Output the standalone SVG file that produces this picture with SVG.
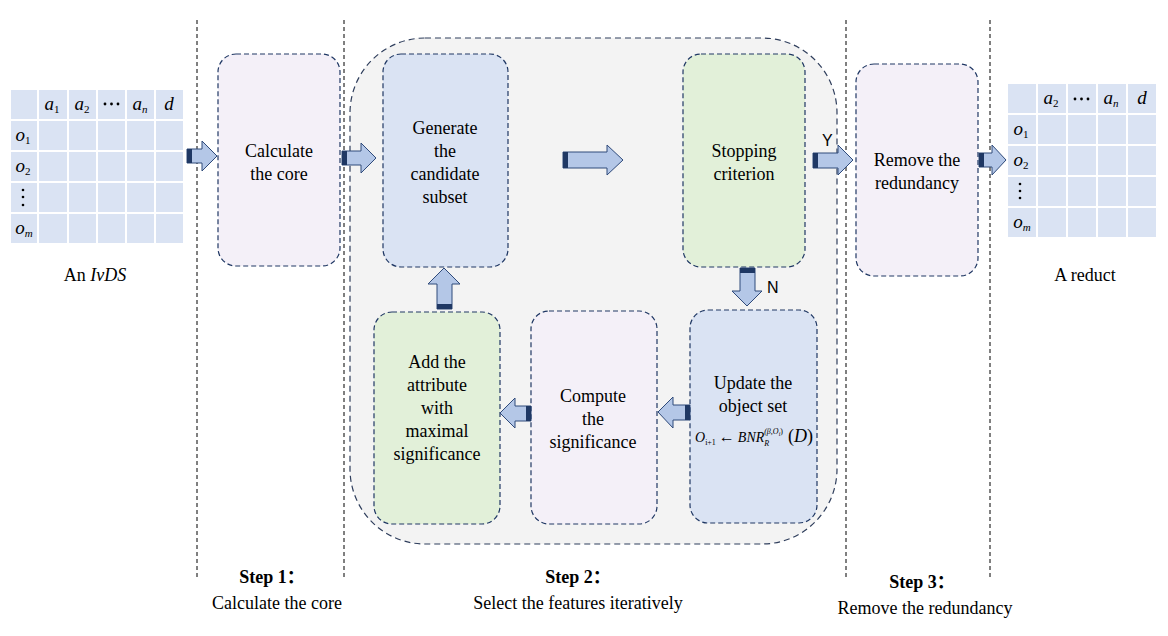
<svg xmlns="http://www.w3.org/2000/svg" width="1168" height="636" viewBox="0 0 1168 636">
<defs>
<style>
.t{font-family:"Liberation Serif","Times New Roman",serif;font-size:18px;fill:#000;text-anchor:middle}
.it{font-style:italic}
.sub{font-size:11px}
.up{font-style:normal}
.step{font-family:"Liberation Serif","Noto Sans CJK SC",serif;font-size:18px;font-weight:bold;text-anchor:middle}
.sans{font-family:"Liberation Sans",Arial,sans-serif;font-size:16px;fill:#000}
.div{stroke:#000;stroke-width:1;stroke-dasharray:4 3;fill:none}
.node{stroke:#203864;stroke-width:1.2;stroke-dasharray:5 3}
.blue{fill:#dae3f3}
.lav{fill:#f4f0f8}
.green{fill:#e2f0d9}
.arr{fill:#b4c7e7;stroke:#2f4a7a;stroke-width:1}
.bar{fill:#1f3864}
.cell{fill:#dae3f3;stroke:#fff;stroke-width:2}
.tv{font-size:19px}
</style>
</defs>

<!-- dividers -->
<g id="dividers">
<line class="div" x1="197" y1="20" x2="197" y2="578"/>
<line class="div" x1="344" y1="20" x2="344" y2="578"/>
<line class="div" x1="846" y1="20" x2="846" y2="578"/>
<line class="div" x1="990" y1="20" x2="990" y2="578"/>
</g>

<!-- big container -->
<g id="container">
<rect x="350" y="38" width="487" height="506" rx="75" ry="75" fill="#f3f3f3" stroke="#2f3e5c" stroke-width="1.2" stroke-dasharray="6 4"/>
</g>

<!-- left table -->
<g id="table-ivds">
<rect class="cell" x="10" y="89" width="28" height="31"/>
<rect class="cell" x="38" y="89" width="30" height="31"/>
<rect class="cell" x="68" y="89" width="29" height="31"/>
<rect class="cell" x="97" y="89" width="29" height="31"/>
<rect class="cell" x="126" y="89" width="29" height="31"/>
<rect class="cell" x="155" y="89" width="29" height="31"/>
<rect class="cell" x="10" y="120" width="28" height="31"/>
<rect class="cell" x="38" y="120" width="30" height="31"/>
<rect class="cell" x="68" y="120" width="29" height="31"/>
<rect class="cell" x="97" y="120" width="29" height="31"/>
<rect class="cell" x="126" y="120" width="29" height="31"/>
<rect class="cell" x="155" y="120" width="29" height="31"/>
<rect class="cell" x="10" y="151" width="28" height="31"/>
<rect class="cell" x="38" y="151" width="30" height="31"/>
<rect class="cell" x="68" y="151" width="29" height="31"/>
<rect class="cell" x="97" y="151" width="29" height="31"/>
<rect class="cell" x="126" y="151" width="29" height="31"/>
<rect class="cell" x="155" y="151" width="29" height="31"/>
<rect class="cell" x="10" y="182" width="28" height="31"/>
<rect class="cell" x="38" y="182" width="30" height="31"/>
<rect class="cell" x="68" y="182" width="29" height="31"/>
<rect class="cell" x="97" y="182" width="29" height="31"/>
<rect class="cell" x="126" y="182" width="29" height="31"/>
<rect class="cell" x="155" y="182" width="29" height="31"/>
<rect class="cell" x="10" y="213" width="28" height="31"/>
<rect class="cell" x="38" y="213" width="30" height="31"/>
<rect class="cell" x="68" y="213" width="29" height="31"/>
<rect class="cell" x="97" y="213" width="29" height="31"/>
<rect class="cell" x="126" y="213" width="29" height="31"/>
<rect class="cell" x="155" y="213" width="29" height="31"/>
<text class="t it tv" x="52" y="110">a<tspan class="sub up" dy="3">1</tspan></text>
<text class="t it tv" x="82" y="110">a<tspan class="sub up" dy="3">2</tspan></text>
<g fill="#000"><circle cx="105" cy="104" r="1.4"/><circle cx="111.5" cy="104" r="1.4"/><circle cx="118" cy="104" r="1.4"/></g>
<text class="t it tv" x="140" y="110">a<tspan class="sub" dy="3">n</tspan></text>
<text class="t it tv" x="169" y="110">d</text>
<text class="t it tv" x="23" y="141">o<tspan class="sub up" dy="3">1</tspan></text>
<text class="t it tv" x="23" y="172">o<tspan class="sub up" dy="3">2</tspan></text>
<g fill="#000"><circle cx="23" cy="190" r="1.3"/><circle cx="23" cy="197" r="1.3"/><circle cx="23" cy="205" r="1.3"/></g>
<text class="t it tv" x="24" y="234">o<tspan class="sub" dy="3">m</tspan></text>
<text class="t" x="95" y="281">An <tspan class="it">IvDS</tspan></text>
</g>

<!-- right table -->
<g id="table-reduct">
<rect class="cell" x="1007" y="83" width="30" height="31"/>
<rect class="cell" x="1037" y="83" width="30" height="31"/>
<rect class="cell" x="1067" y="83" width="30" height="31"/>
<rect class="cell" x="1097" y="83" width="30" height="31"/>
<rect class="cell" x="1127" y="83" width="30" height="31"/>
<rect class="cell" x="1007" y="114" width="30" height="31"/>
<rect class="cell" x="1037" y="114" width="30" height="31"/>
<rect class="cell" x="1067" y="114" width="30" height="31"/>
<rect class="cell" x="1097" y="114" width="30" height="31"/>
<rect class="cell" x="1127" y="114" width="30" height="31"/>
<rect class="cell" x="1007" y="145" width="30" height="31"/>
<rect class="cell" x="1037" y="145" width="30" height="31"/>
<rect class="cell" x="1067" y="145" width="30" height="31"/>
<rect class="cell" x="1097" y="145" width="30" height="31"/>
<rect class="cell" x="1127" y="145" width="30" height="31"/>
<rect class="cell" x="1007" y="176" width="30" height="31"/>
<rect class="cell" x="1037" y="176" width="30" height="31"/>
<rect class="cell" x="1067" y="176" width="30" height="31"/>
<rect class="cell" x="1097" y="176" width="30" height="31"/>
<rect class="cell" x="1127" y="176" width="30" height="31"/>
<rect class="cell" x="1007" y="207" width="30" height="31"/>
<rect class="cell" x="1037" y="207" width="30" height="31"/>
<rect class="cell" x="1067" y="207" width="30" height="31"/>
<rect class="cell" x="1097" y="207" width="30" height="31"/>
<rect class="cell" x="1127" y="207" width="30" height="31"/>
<text class="t it tv" x="1051" y="104">a<tspan class="sub up" dy="3">2</tspan></text>
<g fill="#000"><circle cx="1075" cy="99" r="1.4"/><circle cx="1081.5" cy="99" r="1.4"/><circle cx="1088" cy="99" r="1.4"/></g>
<text class="t it tv" x="1111" y="104">a<tspan class="sub" dy="3">n</tspan></text>
<text class="t it tv" x="1142" y="104">d</text>
<text class="t it tv" x="1021" y="135">o<tspan class="sub up" dy="3">1</tspan></text>
<text class="t it tv" x="1021" y="166">o<tspan class="sub up" dy="3">2</tspan></text>
<g fill="#000"><circle cx="1020" cy="184" r="1.3"/><circle cx="1020" cy="191" r="1.3"/><circle cx="1020" cy="198" r="1.3"/></g>
<text class="t it tv" x="1022" y="228">o<tspan class="sub" dy="3">m</tspan></text>
<text class="t" x="1085" y="281">A reduct</text>
</g>

<!-- nodes -->
<g id="node-core">
<rect class="node lav" x="218" y="54" width="122" height="212" rx="18"/>
<text class="t" x="279" y="157">Calculate</text>
<text class="t" x="279" y="180">the core</text>
</g>
<g id="node-generate">
<rect class="node blue" x="383" y="54" width="125" height="213" rx="18"/>
<text class="t" x="445" y="134">Generate</text>
<text class="t" x="445" y="157">the</text>
<text class="t" x="445" y="180">candidate</text>
<text class="t" x="445" y="203">subset</text>
</g>
<g id="node-stopping">
<rect class="node green" x="683" y="54" width="122" height="213" rx="18"/>
<text class="t" x="744" y="157">Stopping</text>
<text class="t" x="744" y="180">criterion</text>
</g>
<g id="node-remove">
<rect class="node lav" x="856" y="64" width="122" height="212" rx="18"/>
<text class="t" x="917" y="166">Remove the</text>
<text class="t" x="917" y="189">redundancy</text>
</g>
<g id="node-add">
<rect class="node green" x="374" y="312" width="126" height="212" rx="18"/>
<text class="t" x="437" y="368">Add the</text>
<text class="t" x="437" y="391">attribute</text>
<text class="t" x="437" y="414">with</text>
<text class="t" x="437" y="437">maximal</text>
<text class="t" x="437" y="460">significance</text>
</g>
<g id="node-compute">
<rect class="node lav" x="531" y="311" width="126" height="213" rx="18"/>
<text class="t" x="593" y="402">Compute</text>
<text class="t" x="593" y="425">the</text>
<text class="t" x="593" y="448">significance</text>
</g>
<g id="node-update">
<rect class="node blue" x="690" y="310" width="127" height="213" rx="18"/>
<text class="t" x="753" y="389">Update the</text>
<text class="t" x="753" y="412">object set</text>
<text x="695" y="442" font-family="'Liberation Serif','Times New Roman',serif" font-size="14" font-style="italic" fill="#000">O<tspan font-size="8" font-style="normal" dy="3">i+1</tspan><tspan font-style="normal" font-size="16" dx="3" dy="-3">←</tspan><tspan dx="3">BNR</tspan><tspan font-size="8" dy="4">R</tspan><tspan font-size="8" dx="-5" dy="-12">(β,O</tspan><tspan font-size="6" dy="1.5">i</tspan><tspan font-size="8" font-style="normal" dy="-1.5">)</tspan><tspan font-size="18" font-style="normal" dx="5" dy="8">(</tspan><tspan font-size="18">D</tspan><tspan font-size="18" font-style="normal">)</tspan></text>
</g>

<!-- connectors -->
<g id="connectors">
<!-- table -> core -->
<path class="arr" d="M187,149 H202 V141 L217,156 L202,171 V163 H187 Z"/>
<rect class="bar" x="187" y="149" width="5" height="14"/>
<!-- core -> generate -->
<path class="arr" d="M342,151 H361 V143 L376,158 L361,173 V165 H342 Z"/>
<rect class="bar" x="342" y="151" width="5" height="14"/>
<!-- generate -> stopping -->
<path class="arr" d="M563,152 H607 V145 L623,160 L607,175 V168 H563 Z"/>
<rect class="bar" x="563" y="152" width="5" height="16"/>
<!-- stopping -> remove (Y) -->
<path class="arr" d="M813,153 H838 V145 L853,160 L838,175 V168 H813 Z"/>
<rect class="bar" x="813" y="153" width="5" height="15"/>
<text class="sans" x="822" y="146">Y</text>
<!-- remove -> reduct table -->
<path class="arr" d="M979,153 H992 V145 L1006,160 L992,175 V167 H979 Z"/>
<rect class="bar" x="979" y="153" width="5" height="14"/>
<!-- stopping -> update (N) -->
<path class="arr" d="M740,268 V291 H732 L747,306 L762,291 H755 V268 Z"/>
<rect class="bar" x="740" y="268" width="15" height="5"/>
<text class="sans" x="767" y="293">N</text>
<!-- update -> compute -->
<path class="arr" d="M690,405 H673 V397 L658,412 L673,428 V420 H690 Z"/>
<rect class="bar" x="685" y="405" width="5" height="15"/>
<!-- compute -> add -->
<path class="arr" d="M531,406 H515 V398 L500,413 L515,428 V421 H531 Z"/>
<rect class="bar" x="526" y="406" width="5" height="15"/>
<!-- add -> generate -->
<path class="arr" d="M437,309 V284 H428 L444,268 L460,284 H452 V309 Z"/>
<rect class="bar" x="437" y="304" width="15" height="5"/>
</g>

<!-- step labels -->
<g id="steps">
<text class="step" x="272" y="583">Step 1：</text>
<text class="t" x="277" y="609">Calculate the core</text>
<text class="step" x="578" y="583">Step 2：</text>
<text class="t" x="578" y="609">Select the features iteratively</text>
<text class="step" x="922" y="588">Step 3：</text>
<text class="t" x="925" y="614">Remove the redundancy</text>
</g>
</svg>
